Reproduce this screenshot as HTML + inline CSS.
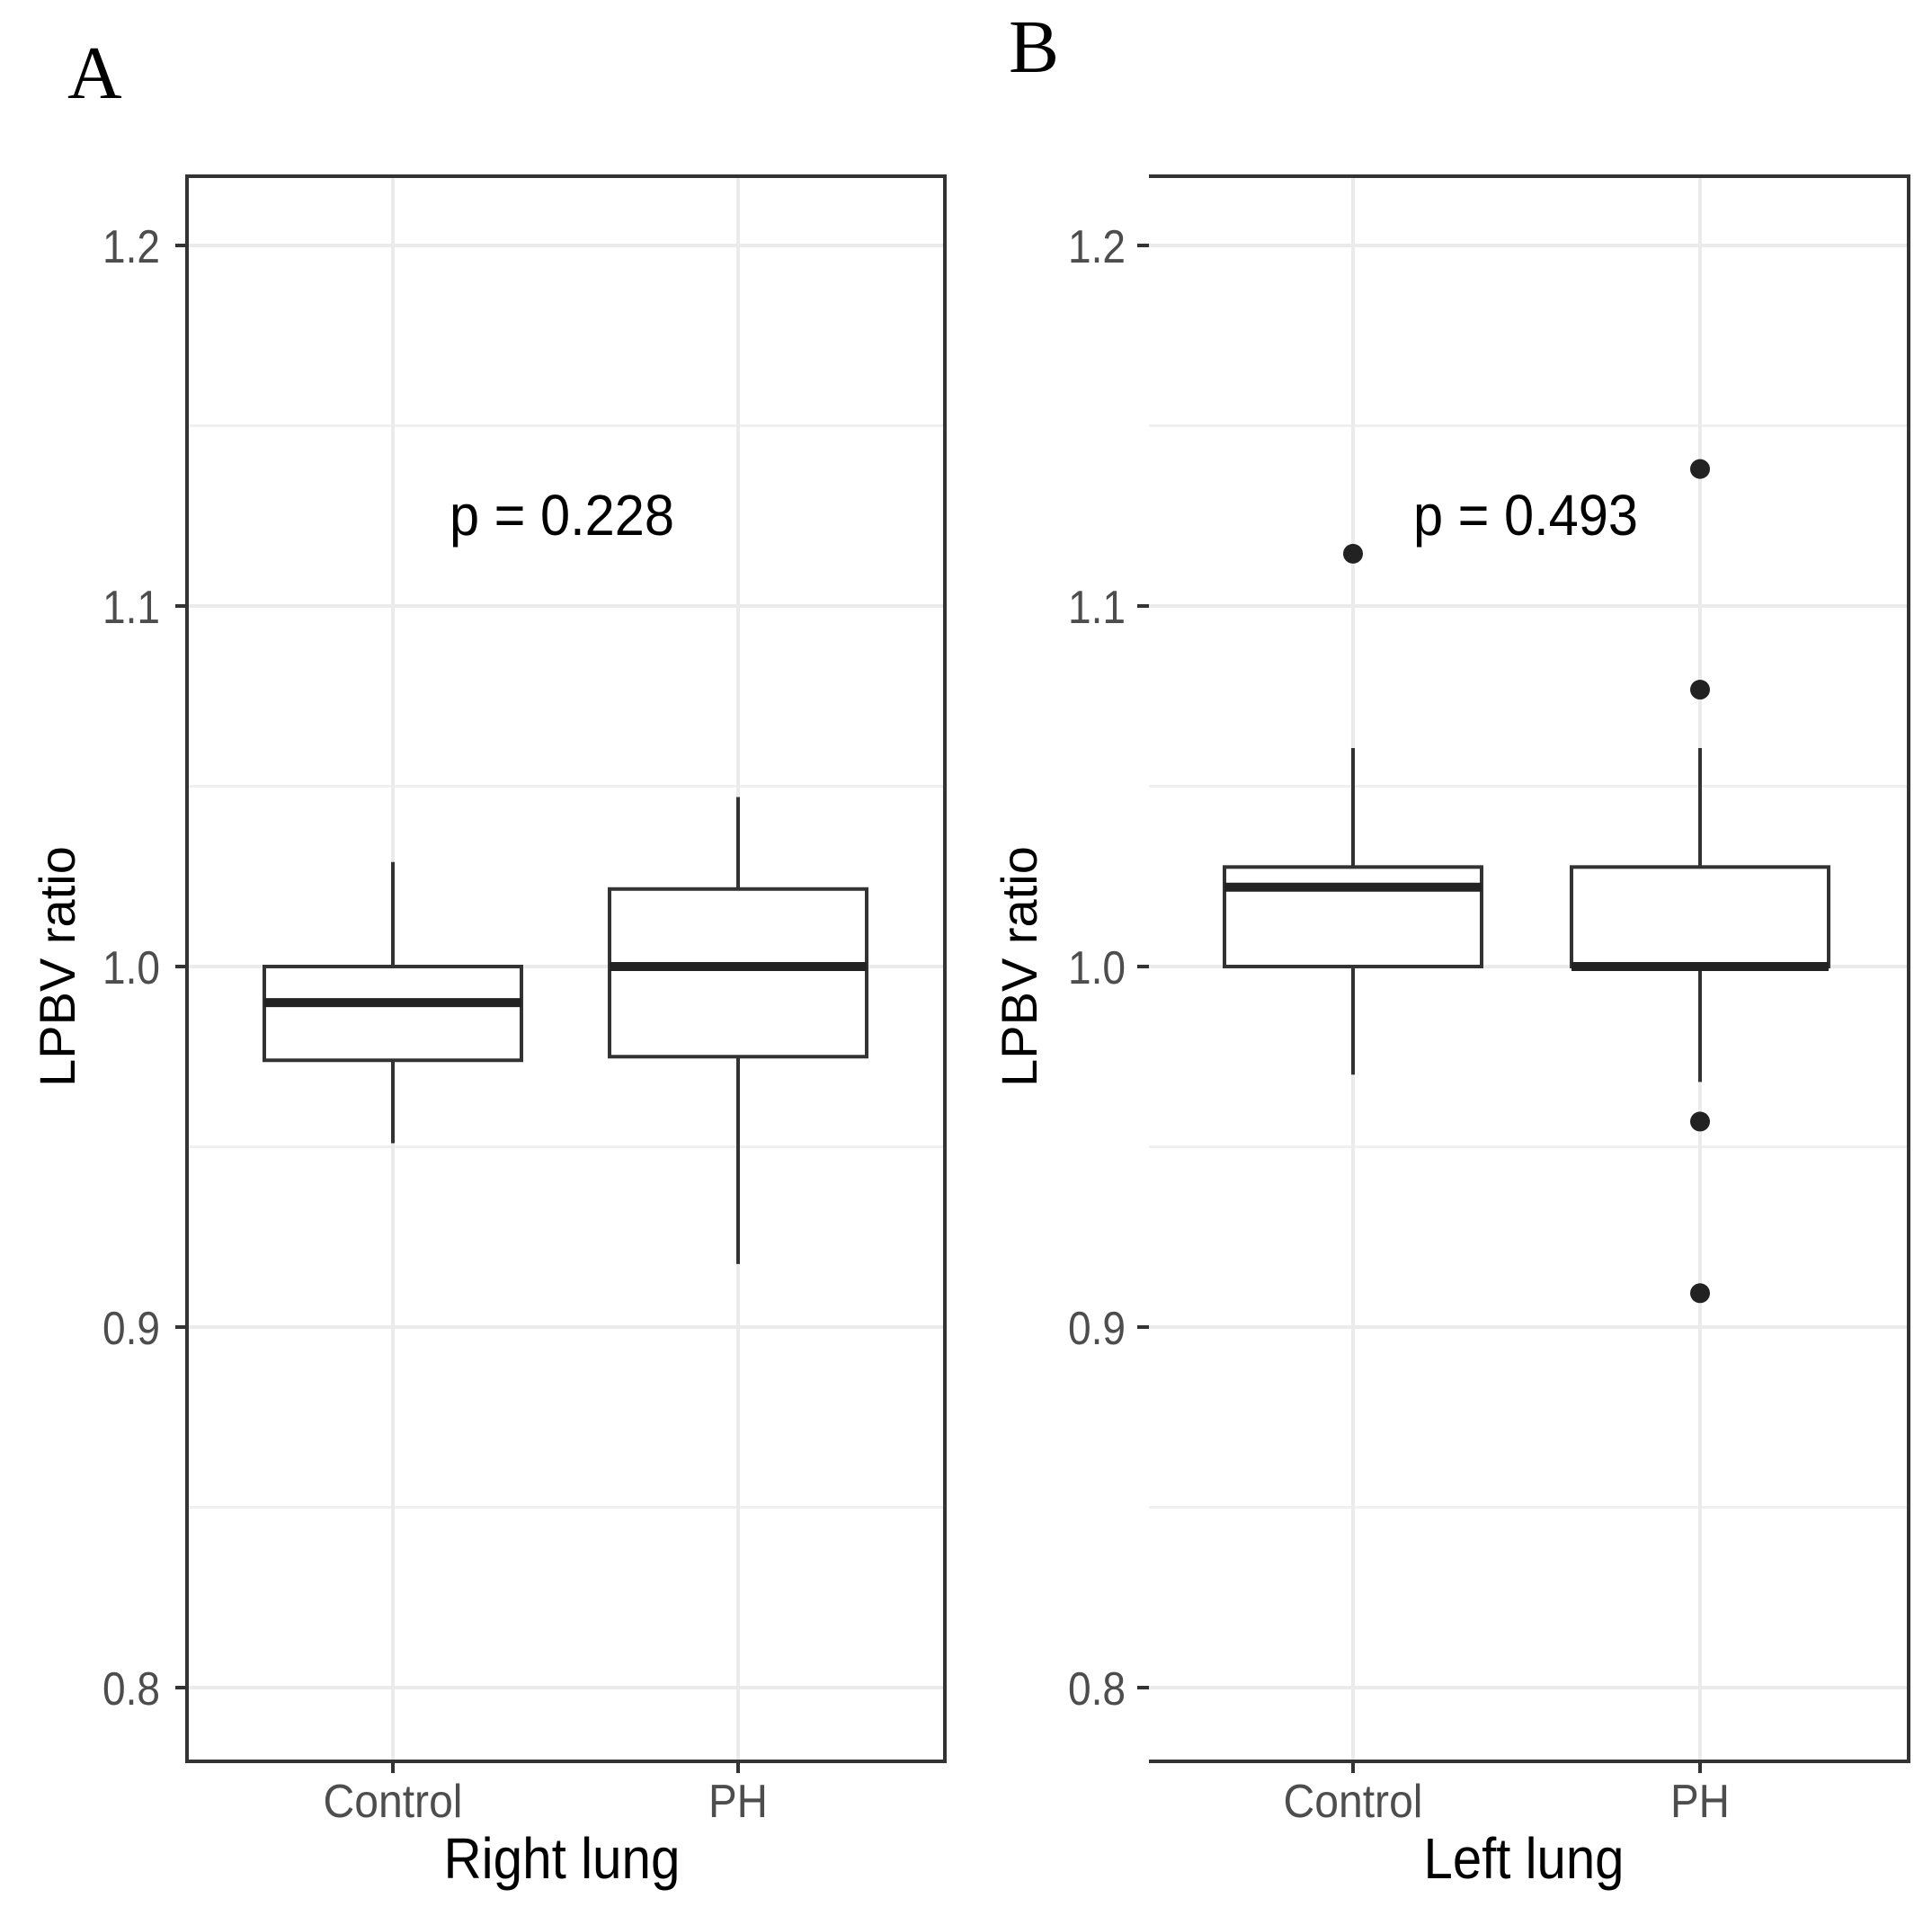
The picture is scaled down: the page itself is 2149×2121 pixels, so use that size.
<!DOCTYPE html>
<html><head><meta charset="utf-8"><style>
html,body{margin:0;padding:0;background:#fff;}
svg{display:block;}
text{font-family:"Liberation Sans",sans-serif;}
</style></head><body>
<svg id="fig" width="2149" height="2121" viewBox="0 0 2149 2121" xmlns="http://www.w3.org/2000/svg">
<text x="75" y="109" style="font-family:'Liberation Serif',serif" font-size="84" fill="#000">A</text>
<text x="1122" y="80" style="font-family:'Liberation Serif',serif" font-size="84" fill="#000">B</text>
</svg>
<script>
const categories = ["Control", "PH"];
const yTicks = [0.8, 0.9, 1.0, 1.1, 1.2];
const yTickLabels = ["0.8", "0.9", "1.0", "1.1", "1.2"];
const yMinor = [0.85, 0.95, 1.05, 1.15];
// panel A (right lung): [low, q1, median, q3, high]
const rightLungStats = [[0.951, 0.974, 0.990, 1.0, 1.029], [0.9175, 0.975, 1.0, 1.0215, 1.047]];
const rightLungOutliers = [[], []];
// panel B (left lung)
const leftLungStats = [[0.970, 1.0, 1.022, 1.0276, 1.0606], [0.968, 1.0, 1.0, 1.0276, 1.0606]];
const leftLungOutliers = [[1.1145], [1.138, 1.0768, 0.957, 0.9094]];
const pLabels = ["p = 0.228", "p = 0.493"];
const xTitles = ["Right lung", "Left lung"];

const NS = "http://www.w3.org/2000/svg";
const svg = document.getElementById("fig");
function mk(tag, attrs, parent) {
  const e = document.createElementNS(NS, tag);
  for (const k in attrs) e.setAttribute(k, attrs[k]);
  (parent || svg).appendChild(e);
  return e;
}
function yScale(v) { return 1075 - (v - 1.0) * 4010; }

const panels = [
  {left: 208, right: 1051, top: 196, bottom: 1959, xs: [437, 821], stats: rightLungStats, out: rightLungOutliers, name: "right-lung", px: 625, pb: 595, tx: 625, lblRight: 178, fullBorder: true},
  {left: 1278, right: 2123, top: 196, bottom: 1959, xs: [1505, 1891], stats: leftLungStats, out: leftLungOutliers, name: "left-lung", px: 1697, pb: 595, tx: 1695, lblRight: 1252, fullBorder: false}
];

panels.forEach((P, pi) => {
  const g = mk("g", {});
  
  
  yMinor.forEach(v => {
    const l = mk("line", {x1: P.left, x2: P.right, y1: yScale(v), y2: yScale(v), stroke: "#f0f0f0", "stroke-width": 3}, g);
    
    
  });
  yTicks.forEach((v, i) => {
    const l = mk("line", {x1: P.left, x2: P.right, y1: yScale(v), y2: yScale(v), stroke: "#ebebeb", "stroke-width": 4}, g);
    
    
    const t = mk("line", {x1: P.left - 13, x2: P.left, y1: yScale(v), y2: yScale(v), stroke: "#333", "stroke-width": 4}, g);
    
    
    const tx = mk("text", {x: P.lblRight, y: yScale(v) + 19, "text-anchor": "end", "font-size": 52, fill: "#4d4d4d", textLength: 64, lengthAdjust: "spacingAndGlyphs"}, g);
    tx.textContent = yTickLabels[i];
    
    
  });
  P.xs.forEach((x, ci) => {
    const l = mk("line", {x1: x, x2: x, y1: P.top, y2: P.bottom, stroke: "#ebebeb", "stroke-width": 4}, g);
    
    
  });
  P.xs.forEach((x, ci) => {
    const s = P.stats[ci];
    const hw = 143;
    const bg = mk("g", {}, g);
    
    
    mk("line", {x1: x, x2: x, y1: yScale(s[4]), y2: yScale(s[3]), stroke: "#333", "stroke-width": 4}, bg);
    mk("line", {x1: x, x2: x, y1: yScale(s[1]), y2: yScale(s[0]), stroke: "#333", "stroke-width": 4}, bg);
    mk("rect", {x: x - hw, y: yScale(s[3]), width: 2 * hw, height: yScale(s[1]) - yScale(s[3]), fill: "#fff", stroke: "#333", "stroke-width": 4}, bg);
    mk("line", {x1: x - hw, x2: x + hw, y1: yScale(s[2]), y2: yScale(s[2]), stroke: "#222", "stroke-width": 10}, bg);
    P.out[ci].forEach(v => {
      const c = mk("circle", {cx: x, cy: yScale(v), r: 11, fill: "#222"}, bg);
      
      
    });
    const t = mk("line", {x1: x, x2: x, y1: P.bottom, y2: P.bottom + 13, stroke: "#333", "stroke-width": 4}, g);
    
    
    const lb = mk("text", {x: x, y: 2021, "text-anchor": "middle", "font-size": 52, fill: "#4d4d4d", textLength: ci === 0 ? 155 : 66, lengthAdjust: "spacingAndGlyphs"}, g);
    lb.textContent = categories[ci];
    
    
  });
  if (P.fullBorder) {
    const b = mk("rect", {x: P.left, y: P.top, width: P.right - P.left, height: P.bottom - P.top, fill: "none", stroke: "#333", "stroke-width": 4}, g);
    
    
  } else {
    const b = mk("path", {d: `M${P.left} ${P.top} H${P.right} V${P.bottom} H${P.left}`, fill: "none", stroke: "#333", "stroke-width": 4}, g);
    
    
  }
  const pt = mk("text", {x: P.px, y: P.pb, "text-anchor": "middle", "font-size": 64, fill: "#000", textLength: 250, lengthAdjust: "spacingAndGlyphs"}, g);
  pt.textContent = pLabels[pi];
  
  
  const xt = mk("text", {x: P.tx, y: 2089, "text-anchor": "middle", "font-size": 64, fill: "#000", textLength: pi === 0 ? 263 : 223, lengthAdjust: "spacingAndGlyphs"}, g);
  xt.textContent = xTitles[pi];
  
  
  const yt = mk("text", {x: 0, y: 0, "text-anchor": "middle", "font-size": 56, fill: "#000", transform: `translate(${P.left - 125},1075) rotate(-90)`}, g);
  yt.textContent = "LPBV ratio";
  
  
});
</script>
</body></html>
